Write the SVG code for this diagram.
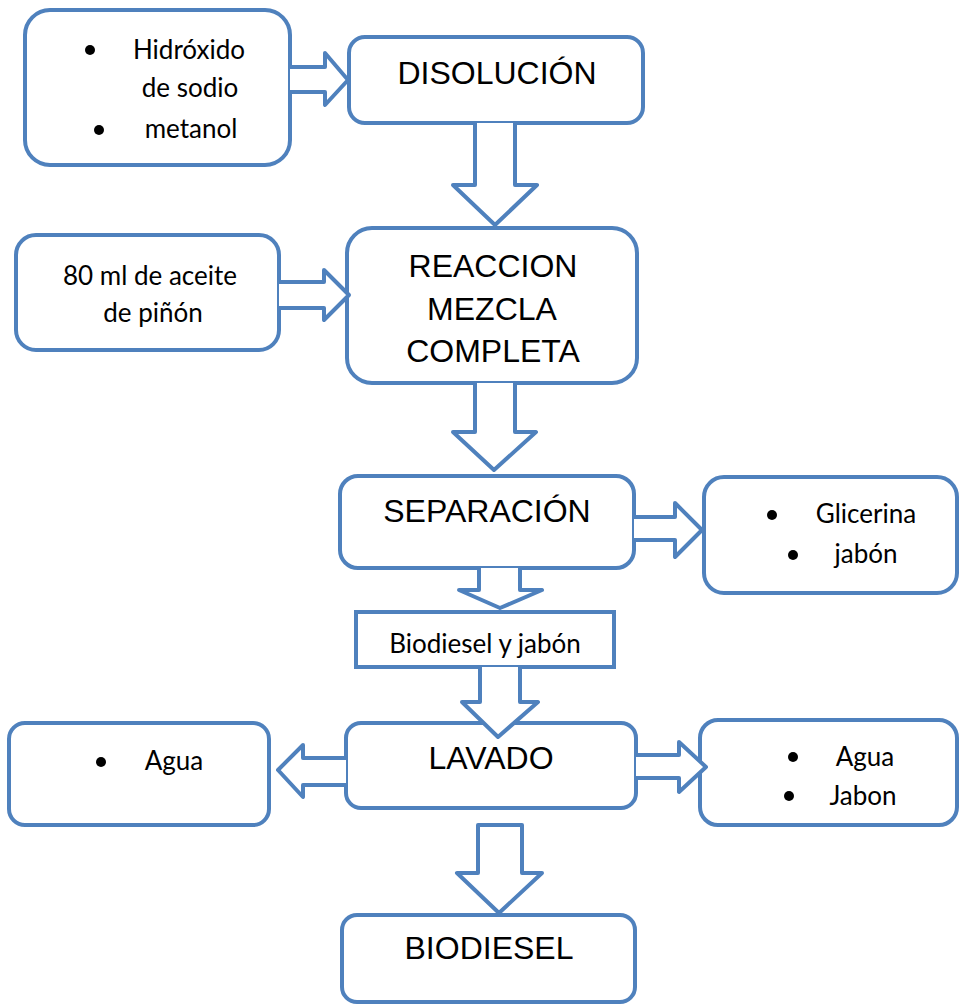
<svg xmlns="http://www.w3.org/2000/svg" width="959" height="1005" viewBox="0 0 959 1005">
<style>
.box{fill:#fff;stroke:#4F81BD;stroke-width:4}
.arr{fill:#fff;stroke:#4F81BD;stroke-width:4;stroke-linejoin:round}
.h{font-family:"Liberation Sans",Arial,sans-serif;font-size:32px;fill:#000;text-anchor:middle}
.c{font-family:Lato,"Noto Sans",sans-serif;font-size:26px;fill:#000;text-anchor:middle}
.b{fill:#000}
</style>
<rect width="959" height="1005" fill="#fff"/>
<g id="n-hidroxido">
<rect class="box" x="25" y="10" width="265" height="155" rx="25"/>
<circle class="b" cx="90" cy="50" r="5"/>
<text class="c" x="189" y="59">Hidróxido</text>
<text class="c" x="190" y="97">de sodio</text>
<circle class="b" cx="99" cy="130" r="5"/>
<text class="c" x="191" y="138">metanol</text>
</g>
<g id="n-disolucion">
<rect class="box" x="349" y="37" width="294" height="86" rx="16"/>
<text class="h" x="497" y="84">DISOLUCIÓN</text>
</g>
<g id="n-aceite">
<rect class="box" x="16" y="235" width="263" height="115" rx="20"/>
<text class="c" x="150" y="285">80 ml de aceite</text>
<text class="c" x="153" y="322">de piñón</text>
</g>
<g id="n-reaccion">
<rect class="box" x="347" y="228" width="290" height="155" rx="25"/>
<text class="h" x="493" y="277">REACCION</text>
<text class="h" x="492" y="320">MEZCLA</text>
<text class="h" x="493" y="362">COMPLETA</text>
</g>
<g id="n-separacion">
<rect class="box" x="340" y="476" width="294" height="92" rx="18"/>
<text class="h" x="487" y="522">SEPARACIÓN</text>
</g>
<g id="n-glicerina">
<rect class="box" x="704" y="477" width="253" height="116" rx="20"/>
<circle class="b" cx="772" cy="515" r="5"/>
<text class="c" x="866" y="523">Glicerina</text>
<circle class="b" cx="793" cy="555" r="5"/>
<text class="c" x="866" y="563">jabón</text>
</g>
<g id="n-biodiesel-jabon">
<rect class="box" x="356" y="612" width="258" height="55"/>
<text class="c" x="485" y="653">Biodiesel y jabón</text>
</g>
<g id="n-lavado">
<rect class="box" x="346" y="723" width="290" height="85" rx="15"/>
<text class="h" x="491" y="769">LAVADO</text>
</g>
<g id="n-agua-left">
<rect class="box" x="9" y="723" width="260" height="102" rx="16"/>
<circle class="b" cx="101" cy="762" r="5"/>
<text class="c" x="174" y="770">Agua</text>
</g>
<g id="n-agua-jabon">
<rect class="box" x="700" y="720" width="257" height="105" rx="18"/>
<circle class="b" cx="793" cy="757" r="5"/>
<text class="c" x="865" y="766">Agua</text>
<circle class="b" cx="789" cy="796" r="5"/>
<text class="c" x="863" y="805">Jabon</text>
</g>
<g id="n-biodiesel">
<rect class="box" x="342" y="915" width="293" height="87" rx="15"/>
<text class="h" x="489" y="959">BIODIESEL</text>
</g>
<g id="connectors">
<path class="arr" d="M290,67 H325 V53 L348,80 L325,105 V92 H290"/>
<path class="arr" d="M475,123 V185 H453 L495,225 L537,185 H515 V123"/>
<path class="arr" d="M279,282 H324 V270 L349,295 L324,320 V308 H279"/>
<path class="arr" d="M475,383 V432 H453 L494,470 L536,432 H515 V383"/>
<path class="arr" d="M634,517 H675 V503 L702,530 L675,557 V540 H634"/>
<path class="arr" d="M479,568 V590 H459 L500,608 L542,590 H520 V568"/>
<path class="arr" d="M480,667 V702 H462 L498,737 L538,702 H520 V667"/>
<path class="arr" d="M346,758 H303 V745 L278,770 L303,797 V785 H346"/>
<path class="arr" d="M636,755 H679 V742 L706,767 L679,792 V778 H636"/>
<path class="arr" d="M478,825 H522 V873 H542 L499,913 L457,873 H478 Z"/>
</g>
</svg>
